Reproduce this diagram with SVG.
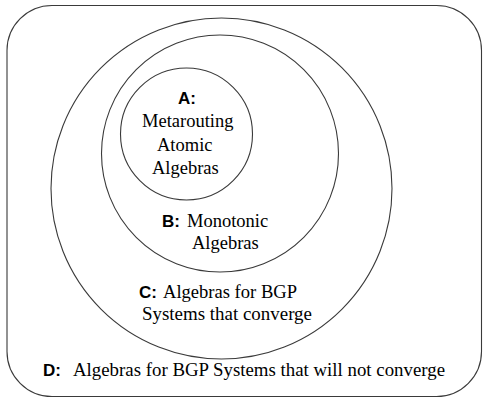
<svg xmlns="http://www.w3.org/2000/svg" width="483" height="399" viewBox="0 0 483 399">
<style>
.shape{fill:none;stroke:#3a3a3a;stroke-width:1.1}
.lbl{font-weight:bold;font-size:17px;fill:#000}
.txt{font-size:18.5px;fill:#000}
</style>
<rect width="483" height="399" fill="#fff"/>
<g id="regionD">
<rect class="shape" x="7" y="5.5" width="474.5" height="391" rx="45" ry="45"/>
<text class="lbl" font-family="Liberation Sans, Arial, sans-serif" x="43" y="376">D:</text>
<text class="txt" font-family="Liberation Serif, Times New Roman, serif" x="73" y="376" textLength="372" lengthAdjust="spacingAndGlyphs">Algebras for BGP Systems that will not converge</text>
</g>
<g id="regionC">
<circle class="shape" cx="221.5" cy="188.5" r="170.5"/>
<text class="lbl" font-family="Liberation Sans, Arial, sans-serif" x="139" y="298">C:</text>
<text class="txt" font-family="Liberation Serif, Times New Roman, serif" x="163" y="298" textLength="134" lengthAdjust="spacingAndGlyphs">Algebras for BGP</text>
<text class="txt" font-family="Liberation Serif, Times New Roman, serif" x="142" y="320" textLength="170" lengthAdjust="spacingAndGlyphs">Systems that converge</text>
</g>
<g id="regionB">
<circle class="shape" cx="220" cy="153.5" r="118.5"/>
<text class="lbl" font-family="Liberation Sans, Arial, sans-serif" x="162" y="227">B:</text>
<text class="txt" font-family="Liberation Serif, Times New Roman, serif" x="187" y="227">Monotonic</text>
<text class="txt" font-family="Liberation Serif, Times New Roman, serif" x="192" y="249">Algebras</text>
</g>
<g id="regionA">
<circle class="shape" cx="186.5" cy="134" r="66"/>
<text class="lbl" font-family="Liberation Sans, Arial, sans-serif" x="178" y="104">A:</text>
<text class="txt" font-family="Liberation Serif, Times New Roman, serif" x="142" y="127">Metarouting</text>
<text class="txt" font-family="Liberation Serif, Times New Roman, serif" x="157" y="151">Atomic</text>
<text class="txt" font-family="Liberation Serif, Times New Roman, serif" x="152" y="174">Algebras</text>
</g>
<g id="connectors"/>
</svg>
